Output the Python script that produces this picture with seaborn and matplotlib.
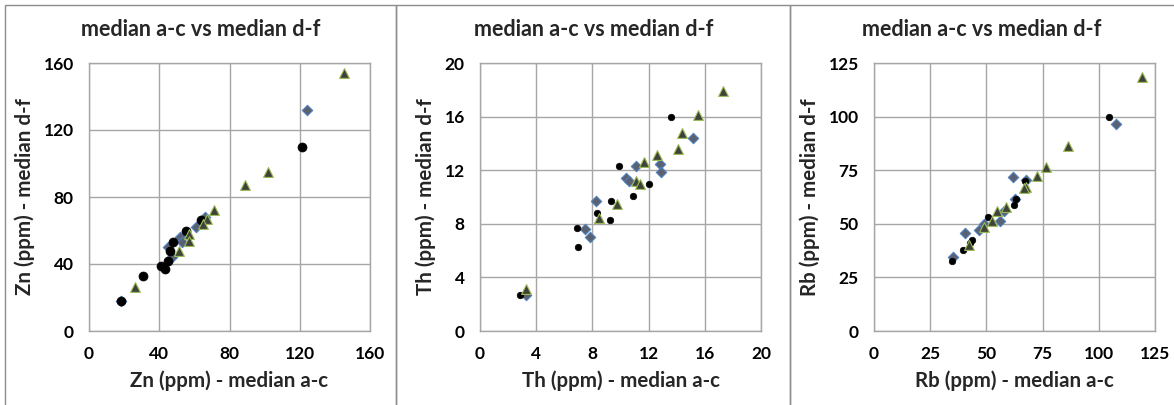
import pandas as pd
import seaborn as sns
import matplotlib.pyplot as plt
from matplotlib.patches import Rectangle

# values, per panel and per series
# series: circle (black), diamond (slate/blue edge), triangle (dark/green edge)
zn_circle_x = [121, 64, 55, 48, 46, 45, 41, 43, 31, 18]
zn_circle_y = [110, 66, 60, 53, 48, 42, 39, 37, 33, 18]
zn_diamond_x = [124, 66, 61, 52, 53, 45, 47, 18]
zn_diamond_y = [132, 68, 62, 56, 53, 50, 44, 18]
zn_triangle_x = [145, 102, 89, 71, 67, 65, 57, 57, 51, 26]
zn_triangle_y = [154, 95, 87, 72, 67, 64, 58, 54, 48, 26]

th_circle_x = [13.6, 9.9, 12.0, 10.9, 9.3, 8.3, 9.25, 6.9, 7.0, 2.85]
th_circle_y = [16.0, 12.35, 10.95, 10.1, 9.7, 8.8, 8.25, 7.7, 6.3, 2.65]
th_diamond_x = [15.15, 12.8, 12.9, 11.1, 10.4, 10.6, 8.25, 7.5, 7.8, 3.25]
th_diamond_y = [14.4, 12.5, 11.9, 12.3, 11.4, 11.2, 9.7, 7.6, 7.0, 2.7]
th_triangle_x = [17.3, 15.5, 14.4, 14.1, 12.6, 11.7, 11.1, 11.4, 9.75, 8.45, 3.25]
th_triangle_y = [17.9, 16.1, 14.8, 13.6, 13.1, 12.6, 11.2, 11.0, 9.5, 8.4, 3.15]

rb_circle_x = [104.4, 67.3, 63.3, 62.1, 50.7, 43.4, 42.9, 39.4, 34.7]
rb_circle_y = [99.8, 69.9, 61.8, 58.8, 53.1, 42.5, 40.9, 37.8, 32.8]
rb_diamond_x = [107.5, 62, 67.6, 62.9, 58, 55.9, 48.8, 46.9, 40.3, 35.1]
rb_diamond_y = [96.7, 72, 70.2, 61.5, 56.2, 51.4, 50.1, 46.9, 45.6, 34.4]
rb_triangle_x = [119.2, 86.4, 76.7, 72.7, 67.5, 66.6, 58.6, 54.7, 52.6, 49.1, 42.3]
rb_triangle_y = [118.5, 86.1, 76.7, 72.4, 67.2, 66.5, 57.8, 56.2, 51.4, 48.3, 40.2]

elements = ['Zn', 'Th', 'Rb']
x_limits = [160, 20, 125]
tick_steps = [40, 4, 25]
title = 'median a-c vs median d-f'

sns.set_style('white')
plt.rcParams['font.family'] = ['Lato', 'DejaVu Sans']
plt.rcParams['font.weight'] = 'bold'

W, H = 1174, 405
fig = plt.figure(figsize=(W / 100, H / 100), dpi=100)

panels = [
    (zn_circle_x, zn_circle_y, zn_diamond_x, zn_diamond_y, zn_triangle_x, zn_triangle_y),
    (th_circle_x, th_circle_y, th_diamond_x, th_diamond_y, th_triangle_x, th_triangle_y),
    (rb_circle_x, rb_circle_y, rb_diamond_x, rb_diamond_y, rb_triangle_x, rb_triangle_y),
]
ax_left = [89, 480, 874]
frame_edges = [(5, 396), (396, 790), (790, 1178)]
circle_sizes = [42, 22, 22]

for i, (cx, cy, dx, dy, tx, ty) in enumerate(panels):
    # chart frame like the spreadsheet chart boxes
    x0, x1 = frame_edges[i]
    fig.add_artist(Rectangle((x0 / W, -0.02), (x1 - x0) / W, (H - 5) / H + 0.02,
                             transform=fig.transFigure, fill=False,
                             edgecolor='#8c8c8c', linewidth=1))
    # title is centred on the chart box, not on the plot area
    fig.text((x0 + min(x1, W - 2)) / 2 / W + 0.0005, 1 - 30 / H, title,
             fontsize=15.5, fontweight='bold', ha='center', va='center')

    ax = fig.add_axes([ax_left[i] / W, (H - 331) / H, 281 / W, 268 / H])
    lim = x_limits[i]
    step = tick_steps[i]

    df_d = pd.DataFrame({'x': dx, 'y': dy})
    df_c = pd.DataFrame({'x': cx, 'y': cy})
    df_t = pd.DataFrame({'x': tx, 'y': ty})
    sns.scatterplot(data=df_d, x='x', y='y', ax=ax, marker='D', s=28,
                    color='#5b6170', edgecolor='#4f81bd', linewidth=0.8, zorder=3)
    sns.scatterplot(data=df_c, x='x', y='y', ax=ax, marker='o', s=circle_sizes[i],
                    color='black', edgecolor='black', linewidth=0.5, zorder=4)
    sns.scatterplot(data=df_t, x='x', y='y', ax=ax, marker='^', s=50,
                    color='#3f4238', edgecolor='#9bbb59', linewidth=0.8, zorder=5)

    ticks = [step * k for k in range(6) if step * k <= lim]
    ax.set_xlim(0, lim)
    ax.set_ylim(0, lim)
    ax.set_xticks(ticks)
    ax.set_yticks(ticks)
    ax.set_xticklabels([str(t) for t in ticks], fontsize=12.5, fontweight='bold')
    ax.set_yticklabels([str(t) for t in ticks], fontsize=12.5, fontweight='bold')
    ax.grid(True, color='#a6a6a6', linewidth=1)
    ax.set_axisbelow(True)
    for sp in ax.spines.values():
        sp.set_color('#a6a6a6')
        sp.set_linewidth(1)
    ax.tick_params(axis='both', direction='out', length=5, width=1, color='#a6a6a6',
                   pad=6, labelcolor='black')

    el = elements[i]
    ax.set_xlabel(f'{el} (ppm) - median a-c', fontsize=14.8, fontweight='bold', labelpad=6)
    ax.set_ylabel(f'{el} (ppm) - median d-f', fontsize=14.8, fontweight='bold', labelpad=6)

fig.savefig('out.png', dpi=100)
